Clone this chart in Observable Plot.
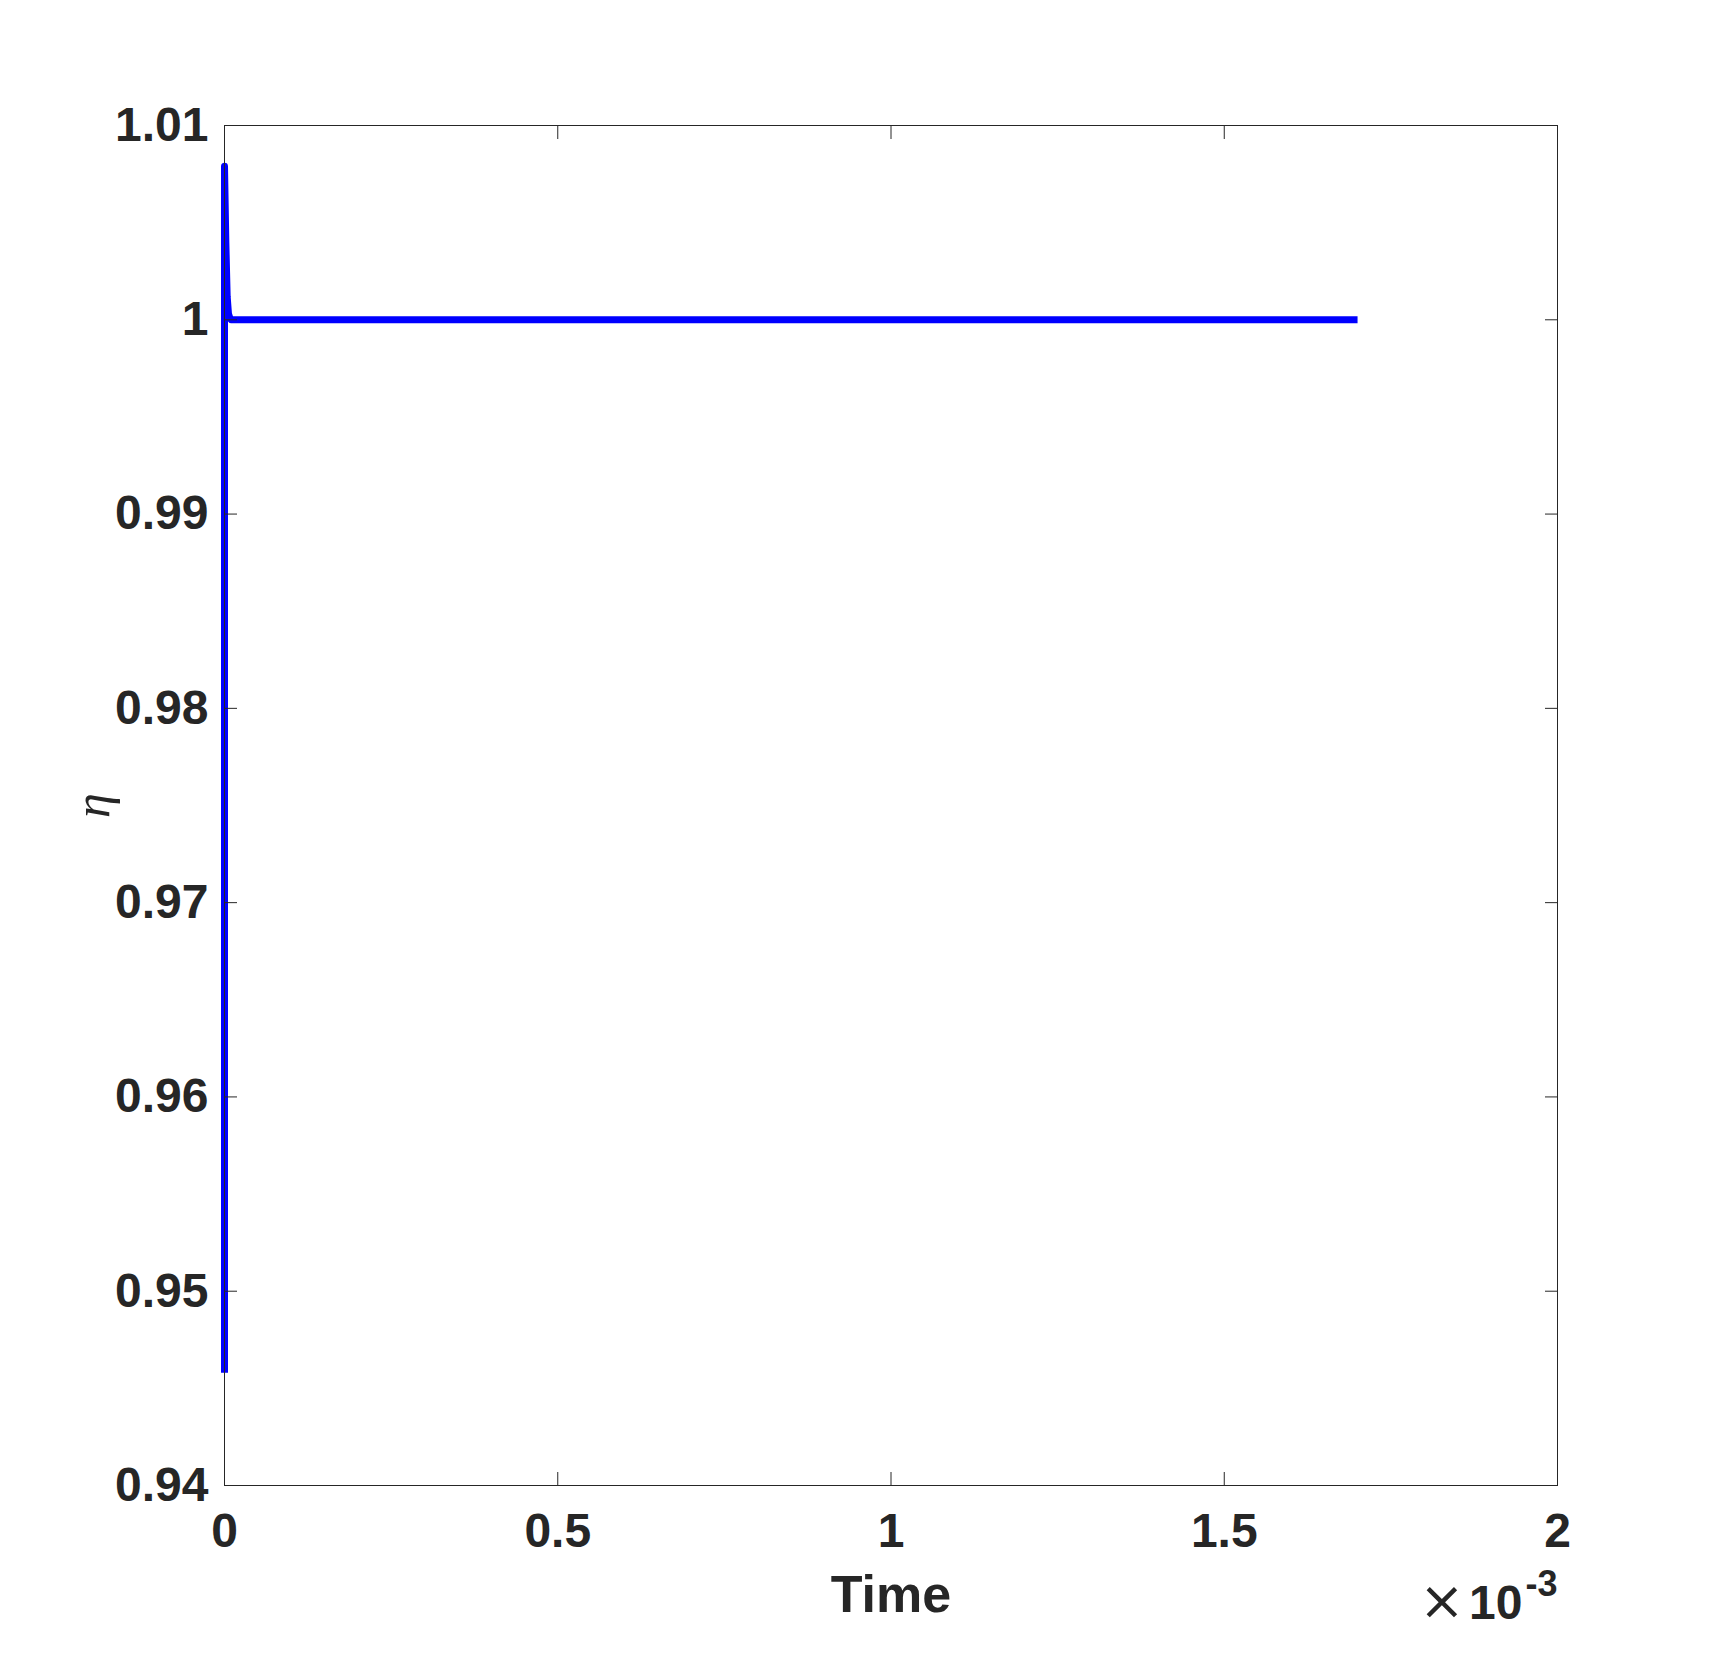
<!DOCTYPE html>
<html><head><meta charset="utf-8">
<script src="https://cdn.jsdelivr.net/npm/d3@7"></script>
<script src="https://cdn.jsdelivr.net/npm/@observablehq/plot@0.6"></script>
<style>body{margin:0;background:#fff;}</style>
</head><body><div id="chart"></div>
<script>
// Data (time in seconds, eta dimensionless)
const time = [0, 0, 0.000002, 0.000004, 0.000006, 0.000008, 0.00001, 0.00002, 0.0005, 0.001, 0.0017];
const eta  = [0.9458, 1.0079, 1.0040, 1.0012, 1.0003, 1.0001, 1.0000, 1.0000, 1.0000, 1.0000, 1.0000];

const xTicks = [0, 0.0005, 0.001, 0.0015, 0.002];
const xTickLabels = ["0", "0.5", "1", "1.5", "2"];
const yTicks = [0.94, 0.95, 0.96, 0.97, 0.98, 0.99, 1.00, 1.01];
const yTickLabels = ["0.94", "0.95", "0.96", "0.97", "0.98", "0.99", "1", "1.01"];

const xLabel = "Time";
const yLabel = "η";
const xExpBase = "10";
const xExpTimes = "×";
const xExpPower = "-3";

const series = time.map((t, i) => ({t, v: eta[i]}));
const fmt = (ticks, labels) => d => {
  const i = ticks.findIndex(t => Math.abs(t - d) < 1e-12);
  return i >= 0 ? labels[i] : "";
};
const ink = "#262626";

const chart = Plot.plot({
  width: 1720,
  height: 1668,
  marginLeft: 224,
  marginRight: 163,
  marginTop: 125,
  marginBottom: 183,
  style: {fontFamily: "'Liberation Sans', Arial, sans-serif", fontSize: "48px", fontWeight: "bold", color: ink, background: "#fff"},
  x: {domain: [0, 0.002], ticks: xTicks, axis: null},
  y: {domain: [0.94, 1.01], ticks: yTicks, axis: null},
  marks: [
    Plot.line(series, {x: "t", y: "v", stroke: "#0000ff", strokeWidth: 7, strokeLinecap: "butt", strokeLinejoin: "round"}),
    Plot.frame({stroke: ink, strokeWidth: 1}),
    // inward ticks on all sides
    Plot.axisX(xTicks, {anchor: "bottom", tickSize: -13, tickFormat: () => "", label: null, stroke: ink}),
    Plot.axisX(xTicks, {anchor: "top", tickSize: -13, tickFormat: () => "", label: null, stroke: ink}),
    Plot.axisY(yTicks, {anchor: "left", tickSize: -13, tickFormat: () => "", label: null, stroke: ink}),
    Plot.axisY(yTicks, {anchor: "right", tickSize: -13, tickFormat: () => "", label: null, stroke: ink}),
    // tick labels
    Plot.axisX(xTicks, {anchor: "bottom", tickSize: 0, tickPadding: 27, tickFormat: fmt(xTicks, xTickLabels), label: null, fill: ink, fontSize: 48, fontWeight: "bold"}),
    Plot.axisY(yTicks, {anchor: "left", tickSize: 0, tickPadding: 16, tickFormat: fmt(yTicks, yTickLabels), label: null, fill: ink, fontSize: 48, fontWeight: "bold"}),
    // axis labels
    Plot.text([xLabel], {frameAnchor: "bottom", text: d => d, dy: 126, lineAnchor: "bottom", fontSize: 52, fontWeight: "bold", fill: ink}),
    Plot.text([yLabel], {frameAnchor: "left", text: d => d, dx: -132, rotate: -90, lineAnchor: "middle", textAnchor: "middle", fontSize: 50, fontWeight: "normal", fontStyle: "italic", fontFamily: "'Liberation Serif', 'DejaVu Serif', serif", fill: ink}),
    // exponent
    Plot.text([xExpPower], {frameAnchor: "bottom-right", text: d => d, dy: 110, lineAnchor: "bottom", textAnchor: "end", fontSize: 36, fontWeight: "bold", fill: ink}),
    Plot.text([xExpBase], {frameAnchor: "bottom-right", text: d => d, dx: -35, dy: 133, lineAnchor: "bottom", textAnchor: "end", fontSize: 48, fontWeight: "bold", fill: ink}),
    Plot.text([xExpTimes], {frameAnchor: "bottom-right", text: d => d, dx: -93, dy: 133, lineAnchor: "bottom", textAnchor: "end", fontSize: 54, fontWeight: "normal", fontFamily: "'DejaVu Sans', sans-serif", fill: ink})
  ]
});
document.getElementById("chart").appendChild(chart);
</script>
</body></html>
